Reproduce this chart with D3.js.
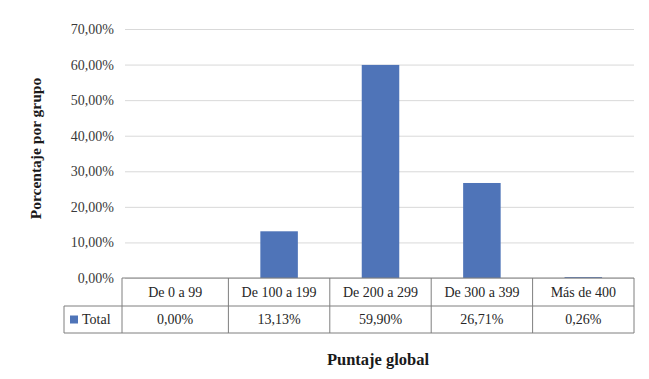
<!DOCTYPE html>
<html>
<head>
<meta charset="utf-8">
<script src="https://cdn.jsdelivr.net/npm/d3@7"></script>
<style>
  body { margin: 0; background: #fff; }
</style>
</head>
<body>
<div id="chart"></div>
<script>
const categories = ["De 0 a 99", "De 100 a 199", "De 200 a 299", "De 300 a 399", "Más de 400"];
const totals = [0.00, 13.13, 59.90, 26.71, 0.26];
const yTicks = [0, 10, 20, 30, 40, 50, 60, 70];
const seriesName = "Total";

const W = 649, H = 379;
const serif = "'Liberation Serif', 'Times New Roman', serif";
const margin = { top: 29, left: 127, right: 15, bottom: 101 };
const color = "#4f74b8";

const svg = d3.select("#chart").append("svg")
    .attr("width", W)
    .attr("height", H)
    .style("font-family", serif);

// the first table column reaches further left than the plot bands
const tableFirst = 122, tableLeft = 64;

const x = d3.scaleBand()
    .domain(categories)
    .range([margin.left, W - margin.right]);

const y = d3.scaleLinear()
    .domain([0, 70])
    .range([H - margin.bottom, margin.top]);

const fmt = v => v.toFixed(2).replace(".", ",") + "%";

// gridlines + tick labels
const yAxis = d3.axisLeft(y)
    .tickValues(yTicks)
    .tickSize(-(W - margin.right - tableFirst - 3))
    .tickFormat(fmt)
    .tickPadding(11);

svg.append("g")
    .attr("transform", `translate(${tableFirst + 3},0)`)
    .call(yAxis)
    .attr("font-family", serif)
    .call(g => g.select(".domain").remove())
    .call(g => g.selectAll(".tick line").attr("stroke", "#d9d9d9"))
    .call(g => g.selectAll(".tick text")
        .attr("fill", "#3a3a3a")
        .style("font-size", "14px"));

// bars
const barW = x.bandwidth() * 0.37;
svg.append("g")
    .selectAll("rect")
    .data(totals)
    .join("rect")
    .attr("x", (d, i) => x(categories[i]) + (x.bandwidth() - barW) / 2)
    .attr("y", d => y(d))
    .attr("width", barW)
    .attr("height", d => y(0) - y(d))
    .attr("fill", color);

// data table
const row1Top = y(0), row1Bot = y(0) + 28, row2Bot = y(0) + 55;
const tbl = svg.append("g")
    .attr("stroke", "#7f7f7f")
    .attr("stroke-width", 1)
    .attr("fill", "none");

tbl.append("line").attr("x1", tableFirst).attr("x2", W - margin.right)
    .attr("y1", row1Top).attr("y2", row1Top);
tbl.append("line").attr("x1", tableLeft).attr("x2", W - margin.right)
    .attr("y1", row1Bot).attr("y2", row1Bot);
tbl.append("line").attr("x1", tableLeft).attr("x2", W - margin.right)
    .attr("y1", row2Bot).attr("y2", row2Bot);
tbl.append("line").attr("x1", tableLeft).attr("x2", tableLeft)
    .attr("y1", row1Bot).attr("y2", row2Bot);

const edges = [tableFirst].concat(categories.slice(1).map(c => x(c)), [x.range()[1]]);
tbl.selectAll(".v")
    .data(edges)
    .join("line")
    .attr("x1", d => d).attr("x2", d => d)
    .attr("y1", row1Top).attr("y2", row2Bot);

const cellMid = i => (edges[i] + edges[i + 1]) / 2;

svg.append("g")
    .selectAll("text")
    .data(categories)
    .join("text")
    .attr("x", (d, i) => cellMid(i))
    .attr("y", (row1Top + row1Bot) / 2)
    .attr("dy", "0.35em")
    .attr("text-anchor", "middle")
    .attr("fill", "#262626")
    .style("font-size", "14px")
    .text(d => d);

svg.append("g")
    .selectAll("text")
    .data(totals)
    .join("text")
    .attr("x", (d, i) => cellMid(i))
    .attr("y", (row1Bot + row2Bot) / 2)
    .attr("dy", "0.35em")
    .attr("text-anchor", "middle")
    .attr("fill", "#262626")
    .style("font-size", "14px")
    .text(d => fmt(d));

// legend key in table
svg.append("rect")
    .attr("x", tableLeft + 6)
    .attr("y", (row1Bot + row2Bot) / 2 - 4)
    .attr("width", 8)
    .attr("height", 8)
    .attr("fill", color);
svg.append("text")
    .attr("x", tableLeft + 18)
    .attr("y", (row1Bot + row2Bot) / 2)
    .attr("dy", "0.35em")
    .attr("fill", "#262626")
    .style("font-size", "14px")
    .text(seriesName);

// axis titles
svg.append("text")
    .attr("transform", `translate(36,${(y(0) + y(70)) / 2 - 5}) rotate(-90)`)
    .attr("text-anchor", "middle")
    .attr("dy", "0.35em")
    .attr("font-weight", "bold")
    .attr("fill", "#1a1a1a")
    .style("font-size", "15.5px")
    .text("Porcentaje por grupo");

svg.append("text")
    .attr("x", (tableFirst + W - margin.right) / 2)
    .attr("y", 359)
    .attr("dy", "0.35em")
    .attr("text-anchor", "middle")
    .attr("font-weight", "bold")
    .attr("fill", "#1a1a1a")
    .style("font-size", "16.5px")
    .text("Puntaje global");
</script>
</body>
</html>
